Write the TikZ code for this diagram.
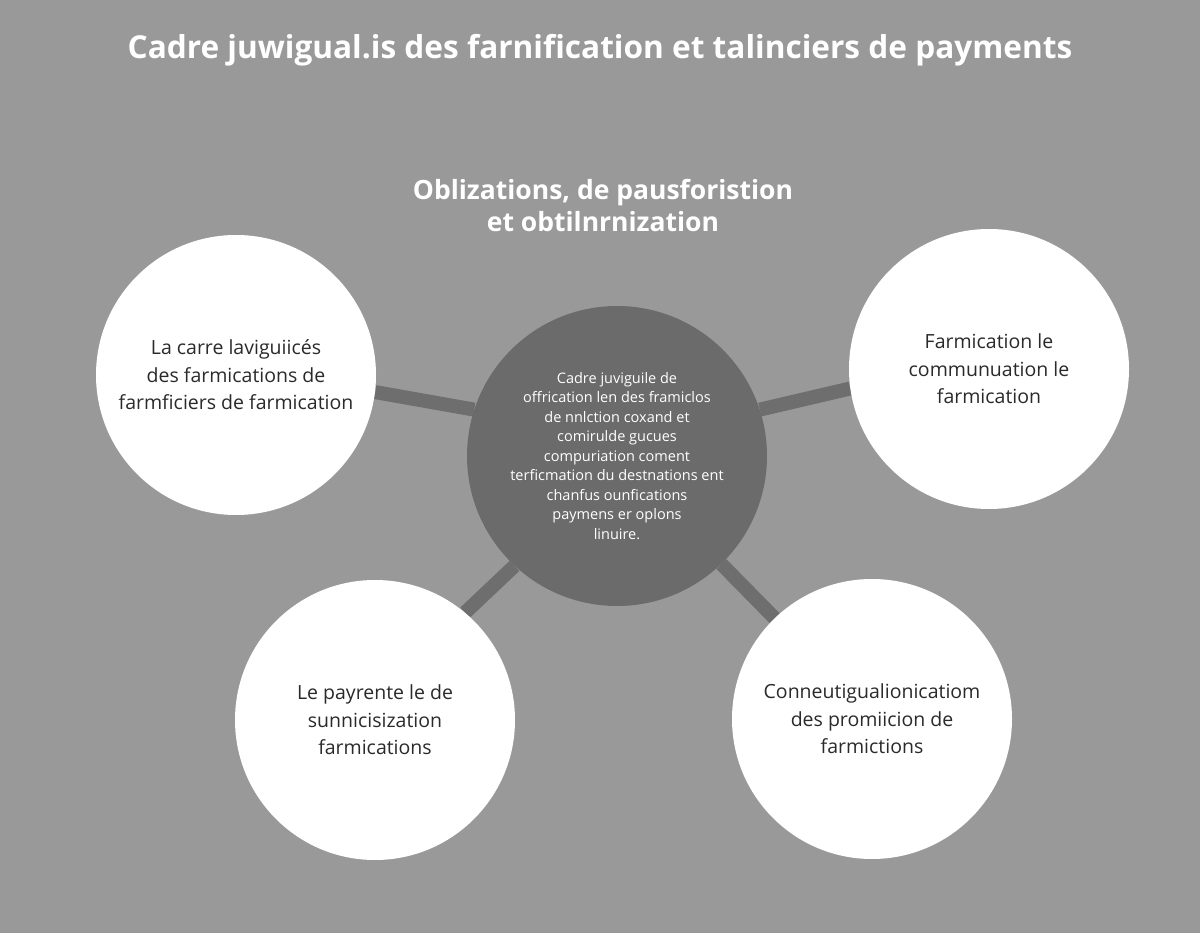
\documentclass[tikz,border=0pt]{standalone}
\usepackage{fontspec}
\setmainfont{Open Sans}
\definecolor{bggray}{HTML}{999999}
\definecolor{hubgray}{HTML}{6B6B6B}
\definecolor{bargray}{HTML}{6E6E6E}
\definecolor{inktext}{HTML}{2A2A2A}
\pgfdeclarelayer{back}
\pgfsetlayers{back,main}
\begin{document}
\begin{tikzpicture}[x=1pt,y=-1pt,
  bubble/.style={circle,fill=white,minimum size=280pt,inner sep=0pt,align=center,
    text=inktext,font=\fontsize{19.5}{27.5}\selectfont},
  hub/.style={circle,fill=hubgray,minimum size=300pt,inner sep=0pt,align=center,
    text=white,font=\fontsize{14.5}{19.5}\selectfont},
  spoke/.style={draw=bargray,line width=14pt}]
\useasboundingbox (0,0) rectangle (1200,933);
\begin{pgfonlayer}{back}
\fill[bggray] (0,0) rectangle (1200,933);
\end{pgfonlayer}
\node[text=white,font=\bfseries\fontsize{31.6}{36}\selectfont] (title) at (600,50)
  {Cadre juwigual.is des farnification et talinciers de payments};
\node[text=white,align=center,font=\bfseries\fontsize{26.5}{32}\selectfont] (subtitle) at (603,205)
  {Oblizations, de pausforistion\\et obtilnrnization};
\node[hub] (hub) at (617,456)
  {Cadre juviguile de\\offrication len des framiclos\\de nnlction coxand et\\comirulde gucues\\
   compuriation coment\\terficmation du destnations ent\\chanfus ounfications\\paymens er oplons\\linuire.};
\node[bubble] (tl) at (236,375) {La carre laviguiicés\\des farmications de\\farmficiers de farmication};
\node[bubble] (tr) at (989,369) {Farmication le\\communuation le\\farmication};
\node[bubble] (bl) at (375,720) {Le payrente le de\\sunnicisization\\farmications};
\node[bubble] (br) at (872,719) {Conneutigualionicatiom\\des promiicion de\\farmictions};
\begin{pgfonlayer}{back}
\draw[spoke] (hub.162) -- (tl.353);
\draw[spoke] (hub.18) -- (tr.188);
\draw[spoke] (hub.227) -- (bl.50);
\draw[spoke] (hub.314) -- (br.134);
\end{pgfonlayer}
\end{tikzpicture}
\end{document}
